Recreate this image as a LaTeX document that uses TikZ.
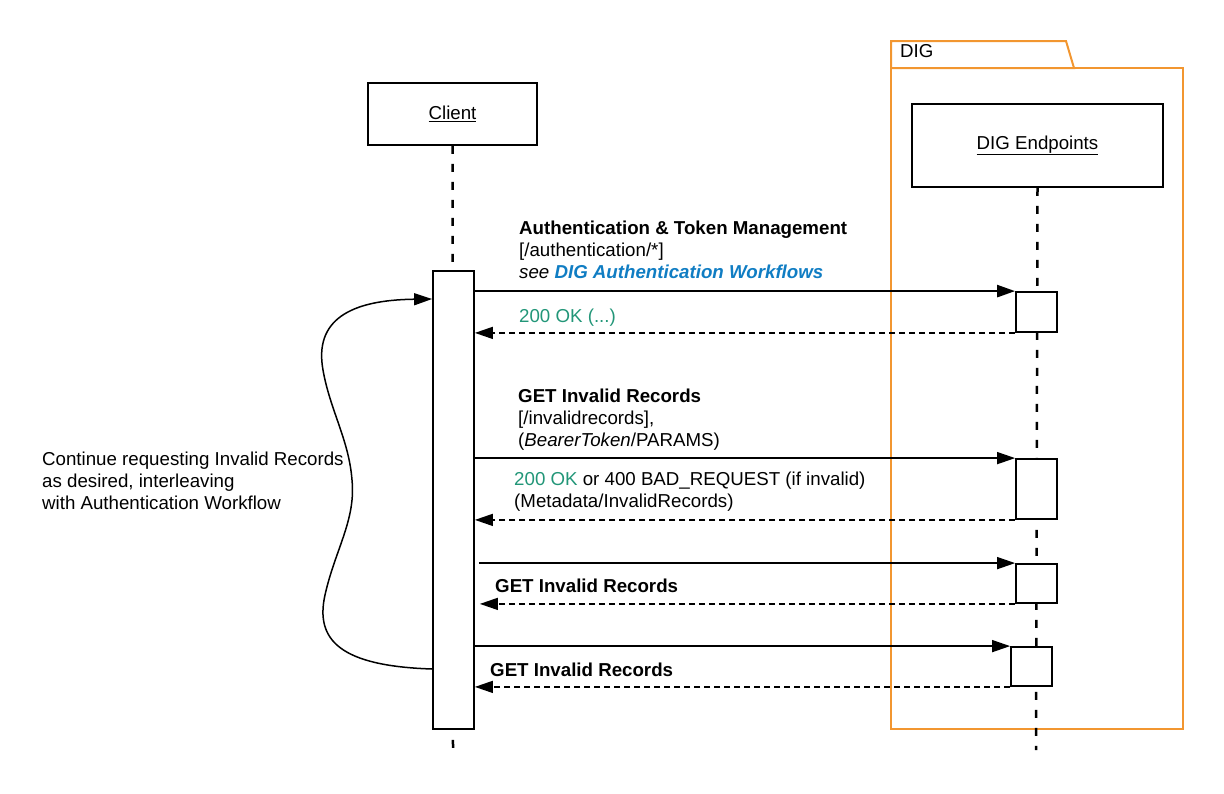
\documentclass[tikz,border=0pt]{standalone}
\usepackage{fontspec}
\setmainfont{Liberation Sans}
\usepackage{xcolor}
\definecolor{digorange}{RGB}{242,150,48}
\definecolor{digblue}{RGB}{16,125,195}
\definecolor{okgreen}{RGB}{34,150,120}
\usetikzlibrary{arrows.meta, positioning, calc}

\tikzset{
  txt/.style={font=\fontsize{18.7}{22}\selectfont},
  lifebox/.style={draw, line width=1.5pt, fill=white, txt},
  actbox/.style={draw, line width=1.8pt, fill=white, minimum width=41pt, inner sep=0pt},
  lifeline/.style={line width=2.5pt, dash pattern=on 8pt off 10pt},
  msg/.style={line width=1.5pt, -{Triangle[length=18pt,width=12pt]}},
  reply/.style={msg, dash pattern=on 6pt off 4pt},
  lbl/.style={txt, anchor=north west, inner sep=0pt, align=left},
}

\begin{document}
\begin{tikzpicture}[x=1pt,y=-1pt]
\useasboundingbox (0,0) rectangle (1224,793);

% DIG package
\draw[digorange, line width=2pt] (891,68) -- (891,41) -- (1066,41) -- (1074,68) -- cycle;
\draw[digorange, line width=2pt] (891,68) rectangle (1183,729);
\node[txt, anchor=base west, inner sep=0pt] (diglbl) at (900,57.8) {DIG};

% participants
\node[lifebox, minimum width=169pt, minimum height=62pt] (client) at (452.5,114) {\underline{Client}};
\node[lifebox, minimum width=251pt, minimum height=83pt] (dig) at (1037.5,145.5) {\underline{DIG Endpoints}};
\coordinate (clientend) at (453,750);
\coordinate (digend) at (1036,750);
\draw[lifeline] (client.south) -- (clientend);
\draw[lifeline] (dig.south) -- (digend);

% activations
\node[actbox, minimum height=458pt] (cbar) at (453.5,500) {};
\node[actbox, minimum height=40pt] (act1) at (1036.5,312) {};
\node[actbox, minimum height=60pt] (act2) at (1036.5,489) {};
\node[actbox, minimum height=39pt] (act3) at (1036.5,583.5) {};
\node[actbox, minimum height=39pt] (act4) at (1031.5,666.5) {};

% messages
\draw[msg, line width=2.5pt] (cbar.east |- act1.north west) -- (act1.north west);
\draw[reply] (act1.south west) -- (cbar.east |- act1.south west);
\draw[msg] (cbar.east |- act2.north west) -- (act2.north west);
\draw[reply] (act2.south west) -- (cbar.east |- act2.south west);
\draw[msg] ($(cbar.east |- act3.north west)+(4,0)$) -- (act3.north west);
\draw[reply] (act3.south west) -- ($(cbar.east |- act3.south west)+(5,0)$);
\draw[msg] (cbar.east |- act4.north west) -- (act4.north west);
\draw[reply] (act4.south west) -- (cbar.east |- act4.south west);

% labels
\node[lbl] (authlbl) at (519,220.5) {\textbf{Authentication \& Token Management}\\
  {[}/authentication/*{]}\\
  \textit{see \textcolor{digblue}{\textbf{DIG Authentication Workflows}}}};
\node[lbl, text=okgreen] (authok) at (519,308.5) {200 OK (...)};
\node[lbl] (getlbl) at (518,388.5) {\textbf{GET Invalid Records}\\
  {[}/invalidrecords{]},\\
  (\textit{BearerToken}/PARAMS)};
\node[lbl] (getok) at (514,471.5) {\textcolor{okgreen}{200 OK} or 400 BAD\_REQUEST (if invalid)\\
  (Metadata/InvalidRecords)};
\node[lbl] (getlbl2) at (495,579) {\textbf{GET Invalid Records}};
\node[lbl] (getlbl3) at (490,662.5) {\textbf{GET Invalid Records}};

% loop note
\node[lbl] (note) at (42,451.5) {Continue requesting Invalid Records\\
  as desired, interleaving\\
  with Authentication Workflow};
\coordinate (loopfrom) at (cbar.west |- 0,669);
\coordinate (loopto) at (cbar.west |- 0,299);
\draw[msg] (loopfrom) .. controls (340,666) and (315,640) .. (325,595)
  .. controls (335,550) and (356,520) .. (352,480)
  .. controls (349,440) and (330,410) .. (323,370)
  .. controls (314,320) and (350,300) .. (loopto);
\end{tikzpicture}
\end{document}
